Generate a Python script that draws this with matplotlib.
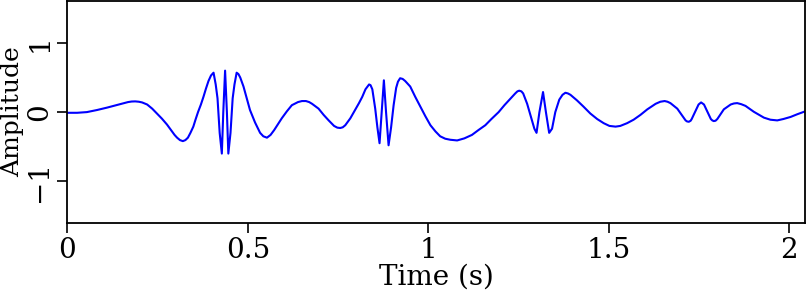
import matplotlib
matplotlib.use("Agg")
import matplotlib.pyplot as plt

plt.rcParams['font.family'] = ['DejaVu Serif']

# Trace (time in s, amplitude)
time = [
    0.000, 0.027, 0.054, 0.082, 0.110, 0.147, 0.168, 0.178, 0.188, 0.198,
    0.207, 0.221, 0.235, 0.248, 0.262, 0.276, 0.290, 0.297, 0.304, 0.312,
    0.320, 0.327, 0.334, 0.341, 0.349, 0.355, 0.362, 0.370, 0.377, 0.384,
    0.391, 0.398, 0.405, 0.411, 0.416, 0.422, 0.428, 0.432, 0.437, 0.442,
    0.446, 0.452, 0.458, 0.463, 0.469, 0.474, 0.479, 0.488, 0.497, 0.506,
    0.520, 0.534, 0.543, 0.553, 0.563, 0.573, 0.594, 0.608, 0.622, 0.639,
    0.650, 0.661, 0.670, 0.678, 0.696, 0.710, 0.724, 0.739, 0.748, 0.756,
    0.763, 0.770, 0.784, 0.798, 0.808, 0.817, 0.826, 0.836, 0.840, 0.845,
    0.853, 0.859, 0.865, 0.871, 0.877, 0.883, 0.890, 0.897, 0.904, 0.911,
    0.916, 0.922, 0.929, 0.936, 0.950, 0.964, 0.978, 0.992, 1.006, 1.020,
    1.033, 1.047, 1.061, 1.080, 1.100, 1.121, 1.139, 1.158, 1.175, 1.195,
    1.211, 1.227, 1.241, 1.247, 1.252, 1.258, 1.263, 1.274, 1.285, 1.294,
    1.300, 1.308, 1.318, 1.326, 1.335, 1.343, 1.352, 1.363, 1.372, 1.380,
    1.387, 1.394, 1.412, 1.430, 1.449, 1.468, 1.486, 1.502, 1.519, 1.532,
    1.551, 1.569, 1.588, 1.607, 1.630, 1.643, 1.655, 1.663, 1.671, 1.690,
    1.705, 1.713, 1.717, 1.722, 1.727, 1.730, 1.739, 1.749, 1.756, 1.764,
    1.774, 1.783, 1.787, 1.791, 1.796, 1.801, 1.819, 1.838, 1.847, 1.856,
    1.867, 1.879, 1.902, 1.930, 1.948, 1.967, 1.984, 2.004, 2.023, 2.044,
]
amplitude = [
    -0.010, -0.010, 0.000, 0.030, 0.065, 0.115, 0.145, 0.153, 0.155, 0.150,
    0.140, 0.110, 0.050, -0.020, -0.095, -0.180, -0.280, -0.330, -0.370, -0.405,
    -0.420, -0.405, -0.370, -0.300, -0.210, -0.110, 0.000, 0.110, 0.220, 0.340,
    0.450, 0.530, 0.570, 0.400, 0.200, -0.300, -0.600, 0.000, 0.600, 0.000,
    -0.600, -0.300, 0.200, 0.400, 0.570, 0.550, 0.500, 0.370, 0.200, 0.030,
    -0.150, -0.300, -0.350, -0.370, -0.330, -0.260, -0.090, 0.010, 0.100, 0.145,
    0.160, 0.160, 0.145, 0.120, 0.050, -0.040, -0.120, -0.200, -0.225, -0.230,
    -0.220, -0.190, -0.090, 0.040, 0.130, 0.220, 0.330, 0.400, 0.390, 0.330,
    0.050, -0.220, -0.450, 0.000, 0.460, 0.000, -0.480, -0.220, 0.100, 0.350,
    0.440, 0.490, 0.480, 0.450, 0.370, 0.220, 0.080, -0.060, -0.190, -0.280,
    -0.350, -0.385, -0.400, -0.410, -0.380, -0.330, -0.260, -0.190, -0.100, 0.000,
    0.100, 0.190, 0.270, 0.300, 0.310, 0.300, 0.270, 0.120, -0.080, -0.240,
    -0.300, 0.000, 0.290, 0.000, -0.300, -0.240, 0.000, 0.180, 0.250, 0.280,
    0.270, 0.250, 0.170, 0.080, -0.020, -0.100, -0.160, -0.200, -0.210, -0.200,
    -0.160, -0.110, -0.040, 0.040, 0.120, 0.150, 0.160, 0.150, 0.130, 0.050,
    -0.060, -0.120, -0.135, -0.140, -0.125, -0.100, 0.000, 0.110, 0.140, 0.110,
    0.000, -0.100, -0.120, -0.130, -0.125, -0.100, 0.040, 0.110, 0.125, 0.130,
    0.115, 0.090, 0.005, -0.080, -0.110, -0.120, -0.100, -0.070, -0.030, 0.010,
]

x_ticks = [0, 0.5, 1, 1.5, 2]
x_tick_labels = ['0', '0.5', '1', '1.5', '2']
y_ticks = [-1, 0, 1]
y_tick_labels = ['\u22121', '0', '1']

fig = plt.figure(figsize=(8.06, 2.94), dpi=100)
ax = fig.add_axes([0.0836, 0.2425, 0.9152, 0.7524])

ax.plot(time, amplitude, color='#0000ff', linewidth=1.5,
        solid_joinstyle='round')

ax.set_xlim(0, 2.044)
ax.set_ylim(-1.6, 1.6)

ax.set_xticks(x_ticks)
ax.set_xticklabels(x_tick_labels)
ax.set_yticks(y_ticks)
ax.set_yticklabels(y_tick_labels, rotation=90, va='center')

ax.tick_params(direction='out', length=7, width=1.2, labelsize=20, pad=3)
for s in ax.spines.values():
    s.set_linewidth(1.3)

ax.set_xlabel('Time (s)', fontsize=20, labelpad=0)
ax.set_ylabel('Amplitude', fontsize=18)
# right edge of the rotated label sits ~24 px from the figure's left side
ax.yaxis.set_label_coords(-0.059, 0.5)

fig.savefig('out.png', dpi=100)
